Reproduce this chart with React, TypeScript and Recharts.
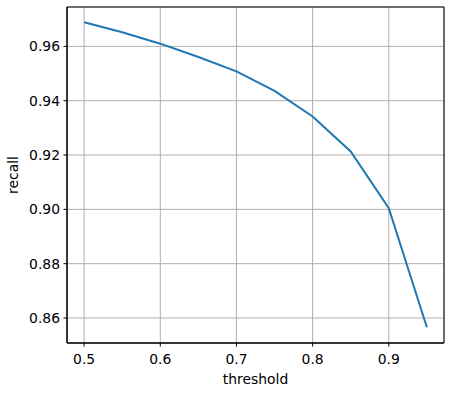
import { LineChart, Line, XAxis, YAxis, CartesianGrid, ReferenceArea } from 'recharts';

// values
const thresholds = [0.5, 0.55, 0.6, 0.65, 0.7, 0.75, 0.8, 0.85, 0.9, 0.95];
const recall = [0.9689, 0.9652, 0.9610, 0.9561, 0.9508, 0.9436, 0.9342, 0.9213, 0.9004, 0.8566];

const xTicks = [0.5, 0.6, 0.7, 0.8, 0.9];
const yTicks = [0.86, 0.88, 0.9, 0.92, 0.94, 0.96];

const X_DOMAIN = [0.4775, 0.9725];
const Y_DOMAIN = [0.8508, 0.9745];

const data = thresholds.map((t, i) => ({ threshold: t, recall: recall[i] }));

const FONT = 'DejaVu Sans';
const tickStyle = { fill: '#000', fontSize: 13.9, fontFamily: FONT };

const YLabel = ({ viewBox }) => {
  const cx = viewBox.x + 13;
  const cy = viewBox.y + viewBox.height / 2;
  return (
    <text
      x={cx}
      y={cy}
      transform={`rotate(-90, ${cx}, ${cy})`}
      textAnchor="middle"
      dominantBaseline="central"
      fontSize={13.9}
      fontFamily={FONT}
      fill="#000"
    >
      recall
    </text>
  );
};

export default function App() {
  return (
    <div style={{ position: 'absolute', left: 0, top: 0, background: '#fff' }}>
      <LineChart
        width={452}
        height={396}
        data={data}
        margin={{ top: 7, right: 8, bottom: 0, left: 0 }}
        style={{ fontFamily: FONT }}
      >
        <CartesianGrid stroke="#b0b0b0" strokeWidth={1} />
        <XAxis
          dataKey="threshold"
          type="number"
          domain={X_DOMAIN}
          allowDataOverflow
          ticks={xTicks}
          tickFormatter={(v) => v.toFixed(1)}
          height={53}
          tick={tickStyle}
          tickSize={3.5}
          tickMargin={8}
          tickLine={{ stroke: '#000' }}
          axisLine={{ stroke: '#000' }}
          label={{ value: 'threshold', position: 'insideBottom', offset: 12.5, fill: '#000', fontSize: 13.9, fontFamily: FONT }}
        />
        <YAxis
          type="number"
          domain={Y_DOMAIN}
          allowDataOverflow
          ticks={yTicks}
          tickFormatter={(v) => v.toFixed(2)}
          width={67}
          tick={tickStyle}
          tickSize={3.5}
          tickMargin={3.5}
          tickLine={{ stroke: '#000' }}
          axisLine={{ stroke: '#000' }}
          label={<YLabel />}
        />
        <Line
          type="linear"
          dataKey="recall"
          stroke="#1f77b4"
          strokeWidth={2}
          dot={false}
          isAnimationActive={false}
        />
        {/* frame around the plot area */}
        <ReferenceArea
          x1={X_DOMAIN[0]}
          x2={X_DOMAIN[1]}
          y1={Y_DOMAIN[0]}
          y2={Y_DOMAIN[1]}
          fill="none"
          fillOpacity={0}
          stroke="#000"
          strokeWidth={1}
          strokeOpacity={1}
          ifOverflow="visible"
        />
      </LineChart>
    </div>
  );
}
